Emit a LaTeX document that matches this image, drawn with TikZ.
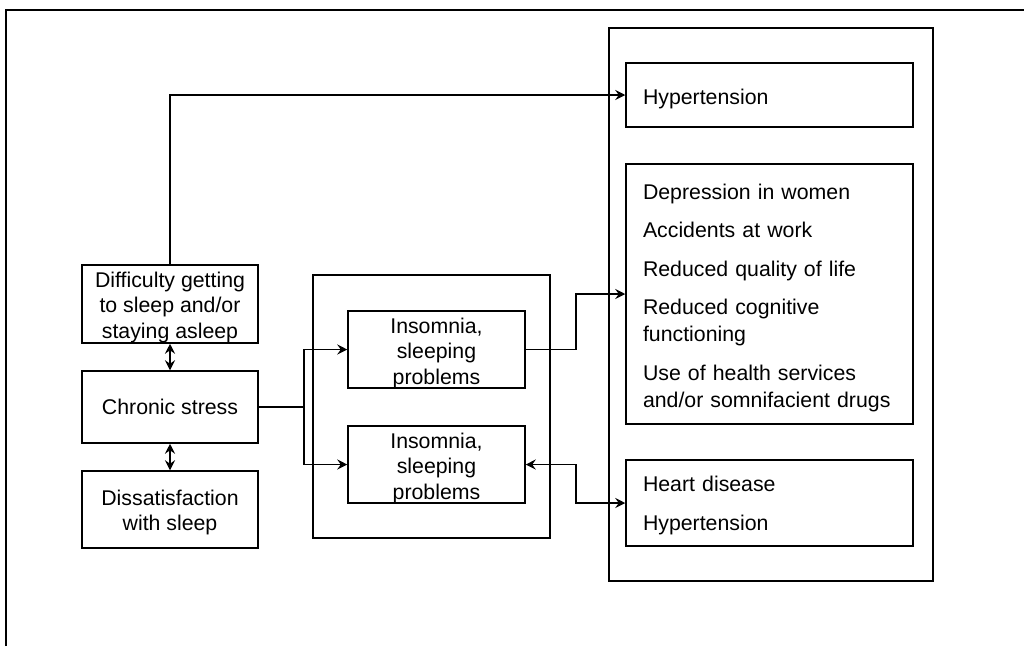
\documentclass[tikz,border=0pt]{standalone}
\usepackage{fontspec}
\setmainfont{Liberation Sans}
\usetikzlibrary{arrows.meta}
\begin{document}
\begin{tikzpicture}[x=1pt,y=-1pt,
  box/.style={draw, line width=1.5pt, inner sep=0pt},
  txt/.style={inner sep=0pt, align=center, font=\fontsize{21.3}{25.5}\selectfont},
  listtxt/.style={inner sep=0pt, text width=253pt, align=left,
    font=\fontsize{21.3}{27}\selectfont},
  tip/.tip={Stealth[length=10pt,width=10pt,inset=3.5pt]},
  wire/.style={line width=1.5pt},
  link/.style={wire, -tip},
  twoway/.style={wire, tip-tip},
]
\useasboundingbox (0,0) rectangle (1024,646);
% page frame
\draw[line width=2pt] (6,646) -- (6,10) -- (1024,10);

% left column
\node[box, minimum width=176pt, minimum height=78pt] (diff) at (170,304) {};
\node[txt] (diff-t) at ([yshift=-3pt]diff.center)
  {Difficulty getting\\to sleep and/or\\staying asleep};
\node[box, minimum width=176pt, minimum height=72pt] (cs) at (170,407) {};
\node[txt] (cs-t) at (cs.center) {Chronic stress};
\node[box, minimum width=176pt, minimum height=77pt] (dis) at (170,509.5) {};
\node[txt] (dis-t) at ([yshift=-3pt]dis.center) {Dissatisfaction\\with sleep};

% middle group
\node[box, minimum width=237pt, minimum height=263pt] (mid) at (431.5,406.5) {};
\node[box, minimum width=177pt, minimum height=77pt] (ins1) at (436.5,349.5) {};
\node[txt] (ins1-t) at ([yshift=-3.5pt]ins1.center) {Insomnia,\\sleeping\\problems};
\node[box, minimum width=177pt, minimum height=77pt] (ins2) at (436.5,464.5) {};
\node[txt] (ins2-t) at ([yshift=-3.5pt]ins2.center) {Insomnia,\\sleeping\\problems};

% outcomes
\node[box, minimum width=324pt, minimum height=553pt] (out) at (771,304.5) {};
\node[box, minimum width=287pt, minimum height=64pt] (hyp) at (769.5,95) {};
\node[listtxt] (hyp-t) at ([yshift=-3.5pt]hyp.center) {Hypertension};
\node[box, minimum width=287pt, minimum height=260pt] (list) at (769.5,294) {};
\node[listtxt] (list-t) at ([yshift=-3.5pt]list.center)
  {Depression in women\\[11.5pt]
   Accidents at work\\[11.5pt]
   Reduced quality of life\\[11.5pt]
   Reduced cognitive\\functioning\\[11.5pt]
   Use of health services\\and/or somnifacient drugs};
\node[box, minimum width=287pt, minimum height=86pt] (heart) at (769.5,503) {};
\node[listtxt] (heart-t) at ([yshift=-2.5pt]heart.center)
  {Heart disease\\[11.5pt]Hypertension};

% connectors
\draw[link] (diff.north) |- (hyp.west);
\draw[twoway] (diff.south) -- (cs.north);
\draw[twoway] (cs.south) -- (dis.north);
\draw[wire] (cs.east) -- ++(45,0) coordinate (split);
\draw[link] (split) |- (ins1.west);
\draw[link] (split) |- (ins2.west);
\draw[link] (ins1.east) -- ++(50,0) |- (list.west);
\draw[twoway] (ins2.east) -- ++(50,0) |- (heart.west);
\end{tikzpicture}
\end{document}
